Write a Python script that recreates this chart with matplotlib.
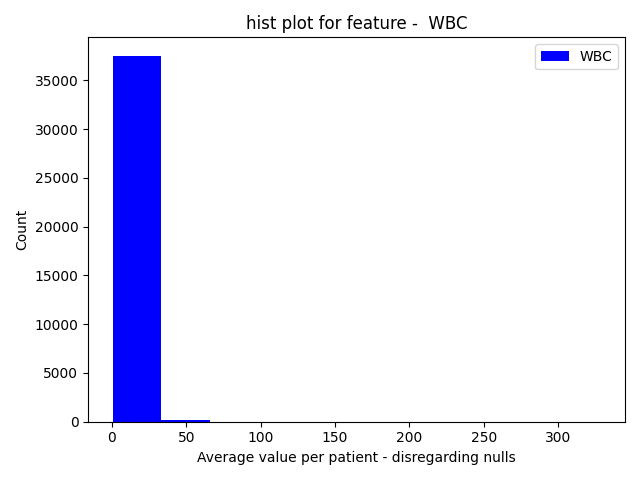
import numpy as np
import matplotlib
matplotlib.use("Agg")
import matplotlib.pyplot as plt

feature = "WBC"
bin_edges = np.linspace(0.5, 328.5, 11)
counts = [37550, 220, 12, 4, 2, 1, 0, 0, 0, 1]

centers = (bin_edges[:-1] + bin_edges[1:]) / 2

fig, ax = plt.subplots(figsize=(6.4, 4.8), dpi=100)
ax.hist(centers, bins=bin_edges, weights=counts, color="blue", label=feature)
ax.set_title(f"hist plot for feature -  {feature}")
ax.set_xlabel("Average value per patient - disregarding nulls")
ax.set_ylabel("Count")
ax.legend(loc="upper right")
fig.tight_layout()
fig.savefig("out.png")
